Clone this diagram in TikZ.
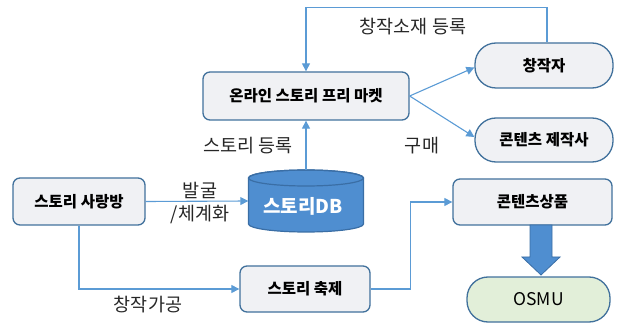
\documentclass[tikz,border=0pt]{standalone}
\usepackage{fontspec}
\setmainfont{Noto Sans CJK KR}
\usetikzlibrary{arrows.meta}
\definecolor{bordc}{HTML}{41719C}
\definecolor{boxfill}{HTML}{F0F1F4}
\definecolor{conn}{HTML}{5B9BD5}
\definecolor{dbfill}{HTML}{4F8ED0}
\definecolor{dbedge}{HTML}{3A6EA5}
\definecolor{greenfill}{HTML}{E2EFD9}
\tikzset{
  box/.style={draw=bordc, fill=boxfill, line width=1.3pt, rounded corners=7pt, inner sep=0pt, font=\fontsize{15.5}{17}\selectfont\bfseries},
  pill/.style={box, rounded corners=21pt},
  conline/.style={draw=conn, line width=1.1pt, -{Triangle[length=8pt,width=8pt]}},
  lbl/.style={font=\fontsize{18.5}{20}\selectfont, inner sep=0pt, text=black!85},
}
\begin{document}
\begin{tikzpicture}[x=1pt,y=-1pt]
\useasboundingbox (0,0) rectangle (624,323);
% nodes
\node[box, minimum width=206pt, minimum height=48pt] (market) at (306,96) {온라인 스토리 프리 마켓};
\node[pill, minimum width=138pt, minimum height=45pt] (creator) at (544,65.5) {창작자};
\node[pill, minimum width=138pt, minimum height=44pt] (producer) at (544,140) {콘텐츠 제작사};
\node[box, minimum width=132pt, minimum height=47pt] (room) at (79,201.5) {스토리 사랑방};
% DB cylinder
\fill[dbfill, draw=dbedge, line width=1.2pt] (248.5,178) -- (248.5,224) arc (180:360:57.5pt and 8pt) -- (363.5,178) arc (0:180:57.5pt and 8pt) -- cycle;
\draw[dbedge, line width=1.2pt] (306,178) ellipse (57.5pt and 8pt);
\node[minimum width=115pt, minimum height=62pt, inner sep=0pt] (db) at (306,201) {};
\node[text=white, font=\fontsize{19}{21}\selectfont\bfseries] (dbtext) at (303,206) {스토리DB};
\node[box, minimum width=130pt, minimum height=46pt] (fest) at (305,289) {스토리 축제};
\node[box, minimum width=159pt, minimum height=46pt] (product) at (532.5,202) {콘텐츠상품};
\node[pill, fill=greenfill, minimum width=143pt, minimum height=45pt, font=\fontsize{17.5}{19}\selectfont] (osmu) at (538.5,299.5) {OSMU};
% connectors
\draw[conline] ([xshift=3pt]creator.north) -- ++(0,-35) -| (market.north);
\draw[conline] (market.east) -- ([yshift=-2pt]creator.west);
\draw[conline] (market.east) -- ([yshift=3pt]producer.west);
\draw[conline] (db.north) -- (market.south);
\draw[conline] (room.east) -- (db.west);
\draw[conline] (room.south) |- (fest.west);
\draw[conline] (fest.east) -- ++(40,0) |- (product.west);
% block arrow
\fill[dbfill, draw=dbedge, line width=0.8pt] (530,225) -- (552,225) -- (552,257) -- (560,257) -- (541,275) -- (522,257) -- (530,257) -- cycle;
% labels
\node[lbl] (l1) at (413,27) {창작소재 등록};
\node[lbl] (l2) at (422,146) {구매};
\node[lbl] (l3) at (248,146) {스토리 등록};
\node[lbl, align=center, font=\fontsize{18.5}{23}\selectfont] (l4) at (200,203) {발굴\\/체계화};
\node[lbl] (l5) at (148,305) {창작가공};
\end{tikzpicture}
\end{document}
